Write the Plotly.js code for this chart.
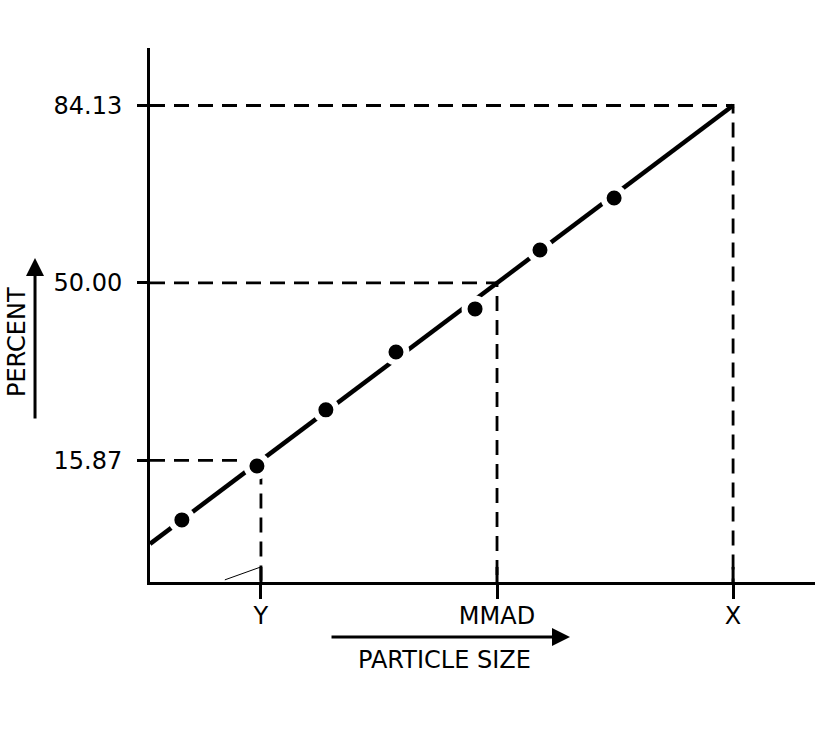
<!DOCTYPE html>
<html>
<head>
<meta charset="utf-8">
<script src="https://cdn.plot.ly/plotly-3.0.1.min.js"></script>
<style>
html,body{margin:0;padding:0;background:#fff;}
#chart{width:834px;height:740px;}
</style>
</head>
<body>
<div id="chart"></div>
<script>
// Probability-paper coordinates: x = log size in units of GSD from MMAD, y = probit (z)
var xRange = [-1.47, 1.347];
var yRange = [-1.685, 1.324];

// Measured data points
var pointX = [-1.335, -1.017, -0.725, -0.428, -0.093, 0.182, 0.496];
var pointY = [-1.335, -1.031, -0.715, -0.389, -0.146, 0.186, 0.479];

// Fitted line end points
var fitX = [-1.47, 1.0];
var fitY = [-1.47, 1.0];

// Reference levels
var levelX = [-1, 0, 1];
var levelY = [-1, 0, 1];
var yTickText = ['15.87', '50.00', '84.13'];
var xTickText = ['Y', 'MMAD', 'X'];

// Faint stray stroke near Y
var strayX = [-1.153, -1.0];
var strayY = [-1.673, -1.6];

var traces = [];
var gx = [], gy = [];
for (var i = 0; i < levelX.length; i++) {
  gx.push(xRange[0], levelX[i], levelX[i], null);
  gy.push(levelY[i], levelY[i], yRange[0], null);
}
traces.push({x: gx, y: gy, mode: 'lines', line: {color: '#000', width: 2.8, dash: '15px,9px'}, hoverinfo: 'skip'});

var tickUpLen = 0.085;
var tx = [], ty = [];
for (var j = 0; j < levelX.length; j++) {
  tx.push(levelX[j], levelX[j], null);
  ty.push(yRange[0], yRange[0] + tickUpLen, null);
}
traces.push({x: tx, y: ty, mode: 'lines', line: {color: '#000', width: 3}, hoverinfo: 'skip'});

traces.push({x: strayX, y: strayY, mode: 'lines', line: {color: '#000', width: 1}, hoverinfo: 'skip'});

traces.push({x: fitX, y: fitY, mode: 'lines', line: {color: '#000', width: 4.5}, hoverinfo: 'skip'});

traces.push({x: pointX, y: pointY, mode: 'markers',
  marker: {color: '#000', size: 21, line: {color: '#fff', width: 6}}, hoverinfo: 'skip'});

var fontFam = '"DejaVu Sans", Arial, sans-serif';
var fnt = {family: fontFam, size: 24, color: '#000'};

var layout = {
  width: 834, height: 740,
  margin: {l: 150, r: 19, t: 48, b: 158},
  paper_bgcolor: '#fff', plot_bgcolor: '#fff',
  showlegend: false,
  font: fnt,
  xaxis: {
    range: xRange, showgrid: false, zeroline: false,
    showline: true, linecolor: '#000', linewidth: 3,
    tickmode: 'array', tickvals: levelX, ticktext: xTickText,
    ticks: 'outside', ticklen: 14, tickwidth: 3, tickcolor: '#000',
    ticklabelstandoff: -4,
    tickfont: fnt
  },
  yaxis: {
    range: yRange, showgrid: false, zeroline: false,
    showline: true, linecolor: '#000', linewidth: 3,
    tickmode: 'array', tickvals: levelY, ticktext: yTickText,
    ticks: 'outside', ticklen: 10, tickwidth: 3, tickcolor: '#000',
    ticklabelstandoff: 10,
    tickfont: fnt
  },
  annotations: [
    {xref: 'paper', yref: 'paper', x: -0.1729, y: 0.6067, ax: 0, ay: 162,
     axref: 'pixel', ayref: 'pixel', text: '', showarrow: true,
     arrowhead: 2, arrowsize: 1.2, arrowwidth: 3, arrowcolor: '#000'},
    {xref: 'paper', yref: 'paper', x: -0.1999, y: 0.4494, xanchor: 'center', yanchor: 'middle',
     text: 'PERCENT', showarrow: false, textangle: -90, font: fnt},
    {xref: 'paper', yref: 'paper', x: 0.6316, y: -0.1030, ax: -240, ay: 0,
     axref: 'pixel', ayref: 'pixel', text: '', showarrow: true,
     arrowhead: 2, arrowsize: 1.2, arrowwidth: 3, arrowcolor: '#000'},
    {xref: 'paper', yref: 'paper', x: 0.4436, y: -0.1461, xanchor: 'center', yanchor: 'middle',
     text: 'PARTICLE SIZE', showarrow: false, font: fnt}
  ]
};

Plotly.newPlot('chart', traces, layout, {displayModeBar: false, staticPlot: true});
</script>
</body>
</html>
